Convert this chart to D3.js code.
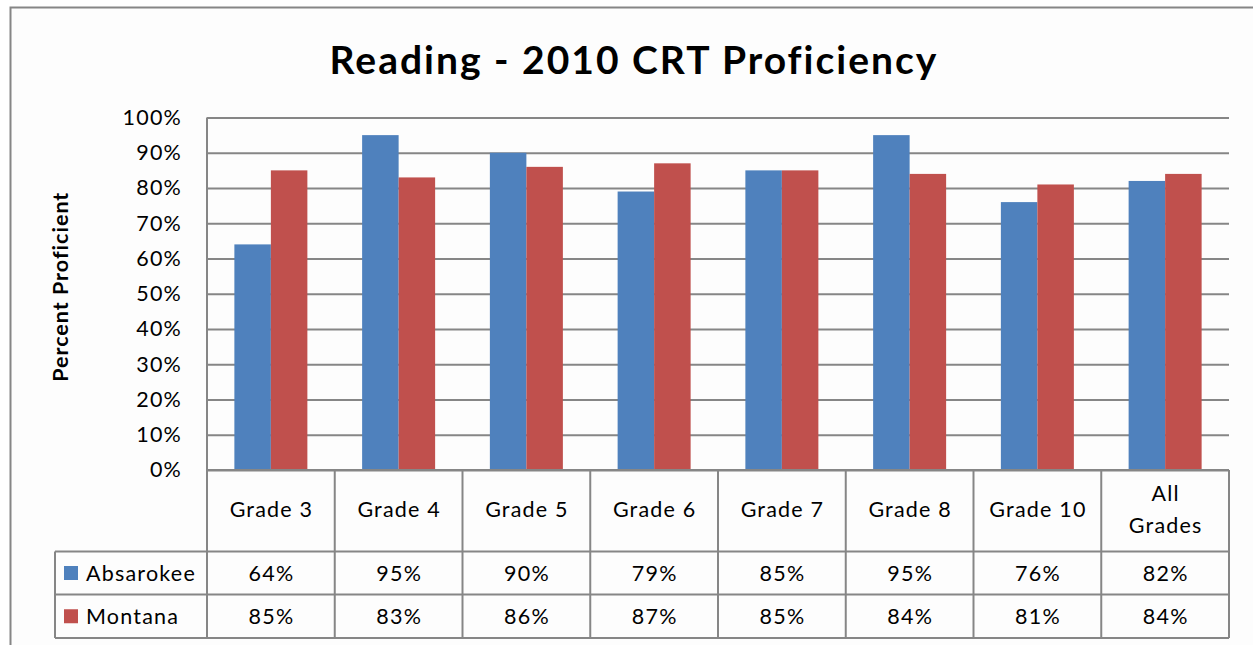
<!DOCTYPE html>
<html>
<head>
<meta charset="utf-8">
<script src="https://cdn.jsdelivr.net/npm/d3@7"></script>
<style>
  body { margin: 0; background: #fff; }
  svg { display: block; font-family: Lato, "Open Sans", sans-serif; }
</style>
</head>
<body>
<script>
// Reading - 2010 CRT Proficiency (bar chart + data table)
const categories = ["Grade 3", "Grade 4", "Grade 5", "Grade 6", "Grade 7", "Grade 8", "Grade 10", "All Grades"]
const seriesNames = ["Absarokee", "Montana"]
const absarokee = [64, 95, 90, 79, 85, 95, 76, 82]
const montana = [85, 83, 86, 87, 85, 84, 81, 84]
const yTicks = [0, 10, 20, 30, 40, 50, 60, 70, 80, 90, 100]

const colors = { "Absarokee": "#4F81BD", "Montana": "#C0504D" }
const gray = "#868686"
const fs = 21.5, ls = 1.2

const w = 1253, h = 645
const plotLeft = 207, plotRight = 1229, plotTop = 117.5, plotBottom = 470
const rowLabelX = 55
const headerBottom = 551.5, row1Bottom = 594.5, row2Bottom = 638

const rows = seriesNames.map((name, i) => ({ name: name, values: i === 0 ? absarokee : montana }))

const svg = d3.select("body")
              .append("svg")
              .attr("width", w)
              .attr("height", h)

// chart area background and border
svg.append("rect")
   .attr("x", 10.5).attr("y", 7.5)
   .attr("width", 1260).attr("height", 660)
   .attr("fill", "#fdfdfd")
   .attr("stroke", gray)
   .attr("stroke-width", 2)

svg.append("text")
   .attr("x", 634).attr("y", 74)
   .attr("text-anchor", "middle")
   .attr("font-size", 39)
   .attr("font-weight", "bold")
   .attr("letter-spacing", 2)
   .text("Reading - 2010 CRT Proficiency")

const yScale = d3.scaleLinear().domain([0, 100]).range([plotBottom, plotTop])

// gridlines
svg.append("g")
   .attr("transform", "translate(" + plotLeft + ",0)")
   .call(d3.axisLeft(yScale).tickValues(yTicks).tickSize(-(plotRight - plotLeft)).tickFormat(""))
   .call(g => g.select(".domain").remove())
   .call(g => g.selectAll("line").attr("stroke", gray).attr("stroke-width", 2))

// y axis labels
svg.append("g")
   .attr("transform", "translate(" + plotLeft + ",0)")
   .call(d3.axisLeft(yScale).tickValues(yTicks).tickSize(0).tickPadding(25).tickFormat(d => d + "%"))
   .call(g => g.select(".domain").remove())
   .call(g => g.selectAll("text")
               .attr("font-size", fs)
               .attr("letter-spacing", ls)
               .attr("fill", "#000")
               .attr("font-family", "Lato, sans-serif"))

svg.append("text")
   .attr("transform", "translate(68," + ((plotTop + plotBottom) / 2 - 7) + ") rotate(-90)")
   .attr("text-anchor", "middle")
   .attr("font-size", fs)
   .attr("letter-spacing", 1)
   .attr("font-weight", "bold")
   .text("Percent Proficient")

// bars
const cols = d3.scaleBand().domain(categories).range([plotLeft, plotRight]).padding(0)
const xScale = d3.scaleBand().domain(categories).range([plotLeft, plotRight])
                 .paddingInner(1.5 / 3.5).paddingOuter(0.75 / 3.5)
const xSub = d3.scaleBand().domain(seriesNames).range([0, xScale.bandwidth()])

svg.append("g")
   .selectAll("g")
   .data(rows)
   .enter()
   .append("g")
   .attr("fill", d => colors[d.name])
   .selectAll("rect")
   .data(d => d.values.map((v, i) => ({ name: d.name, cat: categories[i], value: v })))
   .enter()
   .append("rect")
   .attr("x", d => xScale(d.cat) + xSub(d.name))
   .attr("y", d => yScale(d.value))
   .attr("width", xSub.bandwidth())
   .attr("height", d => yScale(0) - yScale(d.value))

// data table lines
const tbl = svg.append("g").attr("stroke", gray).attr("stroke-width", 2)
tbl.append("line").attr("x1", plotLeft).attr("x2", plotRight).attr("y1", plotBottom).attr("y2", plotBottom)
tbl.append("line").attr("x1", plotLeft).attr("x2", plotLeft).attr("y1", plotTop).attr("y2", row2Bottom)
;[headerBottom, row1Bottom, row2Bottom].forEach(y => {
  tbl.append("line").attr("x1", rowLabelX).attr("x2", plotRight).attr("y1", y).attr("y2", y)
})
tbl.append("line").attr("x1", rowLabelX).attr("x2", rowLabelX).attr("y1", headerBottom).attr("y2", row2Bottom)
categories.forEach(c => {
  const x = cols(c) + cols.bandwidth()
  tbl.append("line").attr("x1", x).attr("x2", x).attr("y1", plotBottom).attr("y2", row2Bottom)
})

// header labels
const header = svg.append("g").attr("font-size", fs).attr("letter-spacing", ls).attr("text-anchor", "middle")
categories.forEach(c => {
  const cx = cols(c) + cols.bandwidth() / 2 + ls / 2
  const words = c === "All Grades" ? ["All", "Grades"] : [c]
  const midY = (plotBottom + headerBottom) / 2
  words.forEach((wd, i) => {
    header.append("text")
          .attr("x", cx)
          .attr("y", midY - 1 + (i - (words.length - 1) / 2) * 32)
          .attr("dy", "0.35em")
          .text(wd)
  })
})

// value rows
const rowTops = [headerBottom, row1Bottom]
const rowBots = [row1Bottom, row2Bottom]
rows.forEach((r, ri) => {
  const midY = (rowTops[ri] + rowBots[ri]) / 2
  svg.append("rect")
     .attr("x", 64).attr("y", midY - 7)
     .attr("width", 14).attr("height", 14)
     .attr("fill", colors[r.name])
  svg.append("text")
     .attr("x", 86).attr("y", midY)
     .attr("dy", "0.35em")
     .attr("font-size", fs)
     .attr("letter-spacing", ls)
     .text(r.name)
  svg.append("g")
     .selectAll("text")
     .data(r.values)
     .enter()
     .append("text")
     .attr("x", (d, i) => cols(categories[i]) + cols.bandwidth() / 2 + ls / 2)
     .attr("y", midY)
     .attr("dy", "0.35em")
     .attr("text-anchor", "middle")
     .attr("font-size", fs)
     .attr("letter-spacing", ls)
     .text(d => d + "%")
})
</script>
</body>
</html>
